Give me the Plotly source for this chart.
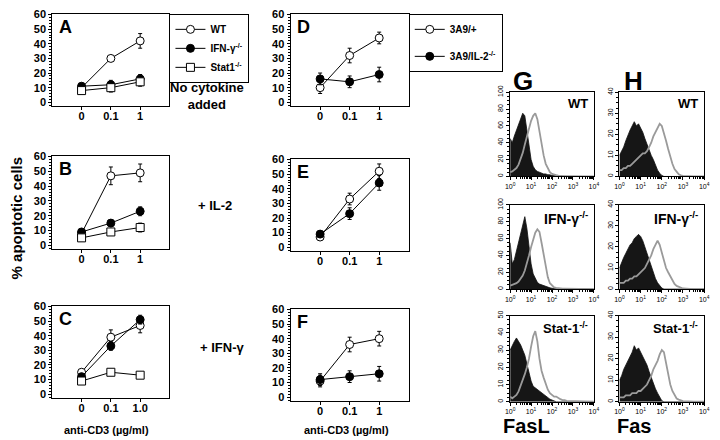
import plotly.graph_objects as go

W, H = 720, 440
FONT = "Liberation Sans, Arial, sans-serif"

# ---------------- data: apoptosis panels ----------------
dose = ["0", "0.1", "1"]
dose_C = ["0", "0.1", "1.0"]

A_wt, A_wt_err = [10, 30, 42], [2, 2, 5]
A_ifn, A_ifn_err = [11, 12, 16], [2, 3, 3]
A_stat, A_stat_err = [8, 10, 14], [2, 3, 3]

B_wt, B_wt_err = [8, 47, 49], [2, 6, 6]
B_ifn, B_ifn_err = [9, 15, 23], [2, 2, 3]
B_stat, B_stat_err = [5, 9, 12], [2, 2, 3]

C_wt, C_wt_err = [15, 39, 47], [2, 5, 5]
C_ifn, C_ifn_err = [12, 33, 51], [2, 3, 3]
C_stat, C_stat_err = [9, 15, 13], [2, 1, 1]

D_pos, D_pos_err = [10, 32, 44], [4, 5, 4]
D_ko, D_ko_err = [16, 14, 19], [4, 4, 5]

E_pos, E_pos_err = [7, 33, 52], [2, 4, 5]
E_ko, E_ko_err = [9, 23, 44], [2, 4, 5]

F_pos, F_pos_err = [11, 36, 40], [4, 5, 5]
F_ko, F_ko_err = [12, 14, 16], [4, 4, 5]

# ---------------- data: flow cytometry histograms ----------------
log_bins = [0.0, 0.1, 0.2, 0.3, 0.4, 0.5, 0.6, 0.7, 0.8, 0.9, 1.0, 1.1, 1.2, 1.3, 1.4, 1.5,
            1.6, 1.7, 1.8, 1.9, 2.0, 2.1, 2.2, 2.3, 2.4, 2.5, 2.6, 2.7, 2.8, 2.9, 3.0, 3.5, 4.0]

G_wt_ctrl = [45, 40, 48, 55, 62, 68, 75, 72, 55, 35, 20, 12, 8, 6, 5, 4, 3, 3, 2, 2, 1, 1, 0.5,
             0, 0, 0, 0, 0, 0, 0, 0, 0, 0]
G_wt_stain = [5, 6, 8, 10, 14, 20, 28, 38, 48, 58, 66, 72, 75, 68, 52, 38, 25, 15, 9, 5, 3, 2, 1.5,
              1, 0.5, 0.5, 0.3, 0.3, 0.2, 0.2, 0.2, 0.2, 0]
H_wt_ctrl = [10, 12, 14, 17, 20, 22, 24, 26, 24, 25, 23, 21, 18, 15, 12, 10, 8, 5, 3, 1.5, 0.5, 0,
             0, 0, 0, 0, 0, 0, 0, 0, 0, 0, 0]
H_wt_stain = [3, 3, 4, 4, 5, 5, 6, 7, 8, 9, 10, 11, 11, 12, 14, 16, 19, 21, 23, 25, 24, 21, 17,
              13, 9, 6, 3.5, 2, 1, 0.5, 0.3, 0, 0]

G_ifn_ctrl = [55, 30, 35, 45, 55, 65, 78, 86, 72, 50, 30, 18, 12, 8, 6, 5, 4, 3, 2, 1.5, 1, 0.5,
              0, 0, 0, 0, 0, 0, 0, 0, 0, 0, 0]
G_ifn_stain = [4, 5, 6, 7, 9, 12, 16, 22, 30, 40, 50, 60, 67, 71, 68, 55, 40, 25, 14, 7, 4, 2,
               1.5, 1, 1, 0.5, 0.5, 0.5, 0.5, 0.3, 0.3, 0.2, 0]
H_ifn_ctrl = [10, 13, 15, 17, 19, 21, 22, 24, 25, 26, 25, 23, 20, 17, 13, 10, 7, 5, 3, 1.5, 0.5,
              0, 0, 0, 0, 0, 0, 0, 0, 0, 0, 0, 0]
H_ifn_stain = [3, 3, 3, 4, 4, 5, 5, 6, 6, 7, 8, 9, 10, 12, 14, 16, 19, 21, 23, 21, 17, 13, 10,
               8, 6, 4, 2.5, 1.5, 1, 0.5, 0.3, 0, 0]

G_stat_ctrl = [30, 33, 35, 37, 35, 33, 30, 27, 22, 16, 12, 9, 8, 7, 6, 5, 4, 3, 2, 1.5, 1, 0.5,
               0, 0, 0, 0, 0, 0, 0, 0, 0, 0, 0]
G_stat_stain = [3, 2, 3, 4, 6, 9, 12, 16, 20, 25, 32, 38, 41, 35, 25, 18, 14, 10, 7, 5, 4, 3, 3,
                2, 1.5, 1, 1, 0.5, 0.5, 0.3, 0.3, 0.2, 0]
H_stat_ctrl = [10, 12, 15, 17, 19, 21, 23, 26, 24, 25, 23, 21, 19, 17, 14, 11, 8, 6, 4, 2, 0.5,
               0, 0, 0, 0, 0, 0, 0, 0, 0, 0, 0, 0]
H_stat_stain = [2, 2, 2, 3, 3, 3, 4, 4, 4, 5, 5, 6, 7, 8, 10, 12, 15, 17, 19, 22, 24, 23, 18,
                13, 8, 5, 3, 1.5, 1, 0.5, 0.3, 0, 0]

decade_vals = [1, 10, 100, 1000, 10000]
decade_text = ["10<sup>0</sup>", "10<sup>1</sup>", "10<sup>2</sup>", "10<sup>3</sup>", "10<sup>4</sup>"]


def fx(px):
    return px / W


def fy(py):
    return 1 - py / H


fig = go.Figure()
layout = dict(
    width=W, height=H, margin=dict(l=0, r=0, t=0, b=0),
    paper_bgcolor="white", plot_bgcolor="white",
    font=dict(family=FONT, color="black"),
    showlegend=True,
)
annotations = []

# ---------------- line panels ----------------
line_panels = [
    ("A", (48, 7, 167, 101), dose,
     [("WT", A_wt, A_wt_err, "open_circle"), ("IFN-γ<sup>-/-</sup>", A_ifn, A_ifn_err, "fill_circle"),
      ("Stat1<sup>-/-</sup>", A_stat, A_stat_err, "open_square")], "legend"),
    ("B", (48, 152, 167, 247), dose,
     [("WT", B_wt, B_wt_err, "open_circle"), ("IFN", B_ifn, B_ifn_err, "fill_circle"),
      ("Stat1", B_stat, B_stat_err, "open_square")], None),
    ("C", (48, 305, 167, 399), dose_C,
     [("WT", C_wt, C_wt_err, "open_circle"), ("IFN", C_ifn, C_ifn_err, "fill_circle"),
      ("Stat1", C_stat, C_stat_err, "open_square")], None),
    ("D", (290, 7, 410, 101), dose,
     [("3A9/+", D_pos, D_pos_err, "open_circle"), ("3A9/IL-2<sup>-/-</sup>", D_ko, D_ko_err, "fill_circle")],
     "legend2"),
    ("E", (290, 155, 410, 249), dose,
     [("3A9/+", E_pos, E_pos_err, "open_circle"), ("3A9/IL-2", E_ko, E_ko_err, "fill_circle")], None),
    ("F", (290, 308, 410, 402), dose,
     [("3A9/+", F_pos, F_pos_err, "open_circle"), ("3A9/IL-2", F_ko, F_ko_err, "fill_circle")], None),
]

styles = {
    "open_circle": dict(symbol="circle", color="white", size=8),
    "fill_circle": dict(symbol="circle", color="black", size=8),
    "open_square": dict(symbol="square", color="white", size=8),
}

ax_i = 0
for letter, (l, t, r, b), xl, series, leg in line_panels:
    ax_i += 1
    xa = "xaxis" if ax_i == 1 else f"xaxis{ax_i}"
    ya = "yaxis" if ax_i == 1 else f"yaxis{ax_i}"
    xr = "x" if ax_i == 1 else f"x{ax_i}"
    yr = "y" if ax_i == 1 else f"y{ax_i}"
    layout[xa] = dict(domain=[fx(l), fx(r)], anchor=yr, type="category",
                      categoryorder="array", categoryarray=xl, range=[-1, 3],
                      showline=True, mirror=True, linecolor="black", linewidth=1,
                      ticks="outside", ticklen=3, tickcolor="black", showgrid=False,
                      zeroline=False, tickfont=dict(size=11, weight="bold"),
                      ticklabelstandoff=-3)
    layout[ya] = dict(domain=[fy(b), fy(t)], anchor=xr, range=[-2.5, 60.5],
                      tickvals=[0, 10, 20, 30, 40, 50, 60],
                      showline=True, mirror=True, linecolor="black", linewidth=1,
                      ticks="outside", ticklen=3, tickcolor="black", showgrid=False,
                      zeroline=False, tickfont=dict(size=11, weight="bold"),
                      minor=dict(dtick=2, ticks="outside", ticklen=2, tickcolor="black"))
    for k, (name, vals, errs, st) in enumerate(series):
        s = styles[st]
        fig.add_trace(go.Scatter(
            x=xl, y=vals, xaxis=xr, yaxis=yr, mode="lines+markers", name=name,
            line=dict(color="black", width=1),
            marker=dict(symbol=s["symbol"], color=s["color"], size=s["size"],
                        line=dict(color="black", width=1)),
            error_y=dict(type="data", array=errs, color="black", thickness=1, width=2),
            showlegend=leg is not None, legend=leg if leg else "legend",
            legendgroup=f"{letter}{k}",
        ))
    annotations.append(dict(text=f"<b>{letter}</b>", x=fx(l + 5), y=fy(t + 1), xref="paper", yref="paper",
                            xanchor="left", yanchor="top", showarrow=False,
                            font=dict(size=18, family=FONT)))

layout["legend"] = dict(x=fx(167), y=fy(7), xanchor="left", yanchor="top",
                        bordercolor="black", borderwidth=1, bgcolor="white",
                        font=dict(size=10, family=FONT, weight="bold"), itemwidth=30,
                        tracegroupgap=0, entrywidth=45)
layout["legend2"] = dict(x=fx(410), y=fy(7), xanchor="left", yanchor="top",
                         bordercolor="black", borderwidth=1, bgcolor="white",
                         font=dict(size=10, family=FONT, weight="bold"), itemwidth=30,
                         tracegroupgap=8, entrywidth=45)

# ---------------- histogram panels ----------------
hist_x = [10 ** e for e in log_bins]
hist_panels = [
    ((513, 87, 598, 173), G_wt_ctrl, G_wt_stain, 100, 20, "WT", 13),
    ((624, 87, 710, 173), H_wt_ctrl, H_wt_stain, 40, 10, "WT", 13),
    ((513, 202, 598, 288), G_ifn_ctrl, G_ifn_stain, 100, 20, "IFN-γ<sup>-/-</sup>", 14),
    ((624, 202, 710, 288), H_ifn_ctrl, H_ifn_stain, 40, 10, "IFN-γ<sup>-/-</sup>", 14),
    ((513, 315, 598, 403), G_stat_ctrl, G_stat_stain, 50, 10, "Stat-1<sup>-/-</sup>", 13),
    ((624, 315, 710, 403), H_stat_ctrl, H_stat_stain, 40, 10, "Stat-1<sup>-/-</sup>", 13),
]
for (l, t, r, b), ctrl, stain, ymax, dt, lab, fs in hist_panels:
    ax_i += 1
    xa, ya = f"xaxis{ax_i}", f"yaxis{ax_i}"
    xr, yr = f"x{ax_i}", f"y{ax_i}"
    layout[xa] = dict(domain=[fx(l), fx(r)], anchor=yr, type="log", range=[0, 4],
                      tickvals=decade_vals, ticktext=decade_text,
                      showline=True, mirror=True, linecolor="black", linewidth=1,
                      ticks="outside", ticklen=3, tickcolor="black", showgrid=False,
                      zeroline=False, tickfont=dict(size=7),
                      minor=dict(dtick="D1", ticks="outside", ticklen=2, tickcolor="black"))
    layout[ya] = dict(domain=[fy(b), fy(t)], anchor=xr, range=[0, ymax], dtick=dt,
                      showline=True, mirror=True, linecolor="black", linewidth=1,
                      ticks="outside", ticklen=3, tickcolor="black", showgrid=False,
                      zeroline=False, tickfont=dict(size=7), tickangle=-90,
                      minor=dict(dtick=dt / 4, ticks="outside", ticklen=2, tickcolor="black"))
    fig.add_trace(go.Scatter(x=hist_x, y=ctrl, xaxis=xr, yaxis=yr, mode="lines",
                             line=dict(color="#111111", width=0.8), fill="tozeroy",
                             fillcolor="#161616", showlegend=False))
    fig.add_trace(go.Scatter(x=hist_x, y=stain, xaxis=xr, yaxis=yr, mode="lines",
                             line=dict(color="#9a9a9a", width=1.8), showlegend=False))
    annotations.append(dict(text=f"<b>{lab}</b>", x=fx(r - 4), y=fy(t + 2), xref="paper", yref="paper",
                            xanchor="right", yanchor="top", showarrow=False,
                            font=dict(size=fs, family=FONT)))

# ---------------- free text ----------------
texts = [
    ("No cytokine<br>added", 205, 91, 13, True, 0),
    ("+ IL-2", 213, 203, 13, True, 0),
    ("+ IFN-γ", 220, 348, 13, True, 0),
    ("anti-CD3 (µg/ml)", 103, 432, 11, True, 0),
    ("anti-CD3 (µg/ml)", 347, 432, 11, True, 0),
    ("% apoptotic cells", 12, 215, 15, True, -90),
    ("G", 526, 76, 26, True, 0),
    ("H", 638, 76, 26, True, 0),
    ("FasL", 530, 428, 20, True, 0),
    ("Fas", 639, 428, 20, True, 0),
]
for txt, x, y, fs, bold, ang in texts:
    annotations.append(dict(text=f"<b>{txt}</b>" if bold else txt, x=fx(x), y=fy(y),
                            xref="paper", yref="paper", xanchor="center", yanchor="middle",
                            showarrow=False, textangle=ang, font=dict(size=fs, family=FONT)))

layout["annotations"] = annotations
fig.update_layout(**layout)
fig.write_html("out.html", config={"displayModeBar": False},
               post_script="document.body.style.margin='0';document.body.style.padding='0';")
